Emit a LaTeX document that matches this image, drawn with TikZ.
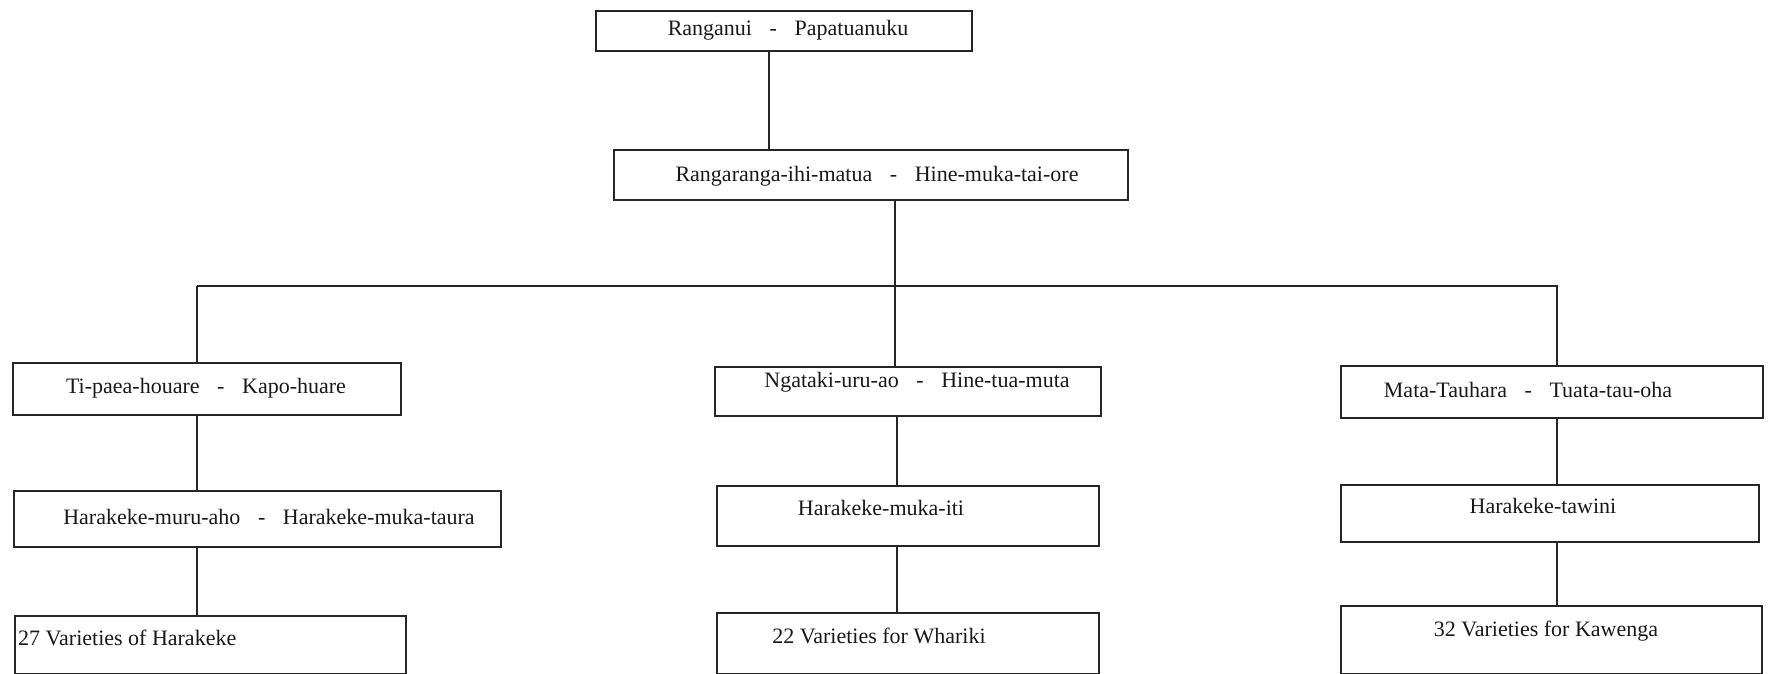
\documentclass[tikz,border=0pt]{standalone}
\usepackage{fontspec}
\setmainfont{Liberation Serif}
\newcommand{\dsh}{\hspace{0.8em}-\hspace{0.8em}}
\begin{document}
\begin{tikzpicture}[x=1pt,y=-1pt,
  box/.style={draw=black!85,line width=1.6pt,inner sep=0pt},
  lbl/.style={inner sep=0pt,font=\fontsize{22}{24}\selectfont,text=black!90},
  conn/.style={draw=black!85,line width=1.6pt}]
\useasboundingbox[fill=white] (0,0) rectangle (1771,673);
% boxes
\node[box,minimum width=376pt,minimum height=40pt] (b1) at (784,31) {};
\node[box,minimum width=514pt,minimum height=50pt] (b2) at (871,175) {};
\node[box,minimum width=388pt,minimum height=52pt] (b3a) at (207,389) {};
\node[box,minimum width=386pt,minimum height=49pt] (b3b) at (908,391.5) {};
\node[box,minimum width=422pt,minimum height=52pt] (b3c) at (1552,392) {};
\node[box,minimum width=487pt,minimum height=56pt] (b4a) at (257.5,519) {};
\node[box,minimum width=382pt,minimum height=60pt] (b4b) at (908,516) {};
\node[box,minimum width=418pt,minimum height=57pt] (b4c) at (1550,513.5) {};
\node[box,minimum width=391pt,minimum height=58pt] (b5a) at (210.5,645) {};
\node[box,minimum width=382pt,minimum height=61pt] (b5b) at (908,643.5) {};
\node[box,minimum width=421pt,minimum height=68pt] (b5c) at (1551.5,640) {};
% texts
\node[lbl] (t1) at (788,30) {Ranganui\dsh Papatuanuku};
\node[lbl] (t2) at (877,176) {Rangaranga-ihi-matua\dsh Hine-muka-tai-ore};
\node[lbl] (t3a) at (206,388) {Ti-paea-houare\dsh Kapo-huare};
\node[lbl] (t3b) at (917,382) {Ngataki-uru-ao\dsh Hine-tua-muta};
\node[lbl] (t3c) at (1528,390) {Mata-Tauhara\dsh Tuata-tau-oha};
\node[lbl] (t4a) at (269,517) {Harakeke-muru-aho\dsh Harakeke-muka-taura};
\node[lbl] (t4b) at (881,508) {Harakeke-muka-iti};
\node[lbl] (t4c) at (1543,506) {Harakeke-tawini};
\node[lbl,anchor=west] (t5a) at (18,638) {27 Varieties of Harakeke};
\node[lbl] (t5b) at (879,636) {22 Varieties for Whariki};
\node[lbl] (t5c) at (1546,631) {32 Varieties for Kawenga};
% bus coordinates
\coordinate (top1) at (769,0);
\coordinate (busL) at (197,286);
\coordinate (busM) at (895,286);
\coordinate (busR) at (1558,286);
\coordinate (busRc) at (1557,286);
\coordinate (colB) at (897,0);
\coordinate (colC) at (1557,0);
% connectors
\draw[conn] (b1.south -| top1) -- (b2.north -| top1);
\draw[conn] (b2.south -| busM) -- (busM);
\draw[conn] (busL) -- (busR);
\draw[conn] (busL) -- (b3a.north -| busL);
\draw[conn] (busM) -- (b3b.north -| busM);
\draw[conn] (busRc) -- (b3c.north -| busRc);
\draw[conn] (b3a.south -| busL) -- (b4a.north -| busL);
\draw[conn] (b4a.south -| busL) -- (b5a.north -| busL);
\draw[conn] (b3b.south -| colB) -- (b4b.north -| colB);
\draw[conn] (b4b.south -| colB) -- (b5b.north -| colB);
\draw[conn] (b3c.south -| colC) -- (b4c.north -| colC);
\draw[conn] (b4c.south -| colC) -- (b5c.north -| colC);
\end{tikzpicture}
\end{document}
